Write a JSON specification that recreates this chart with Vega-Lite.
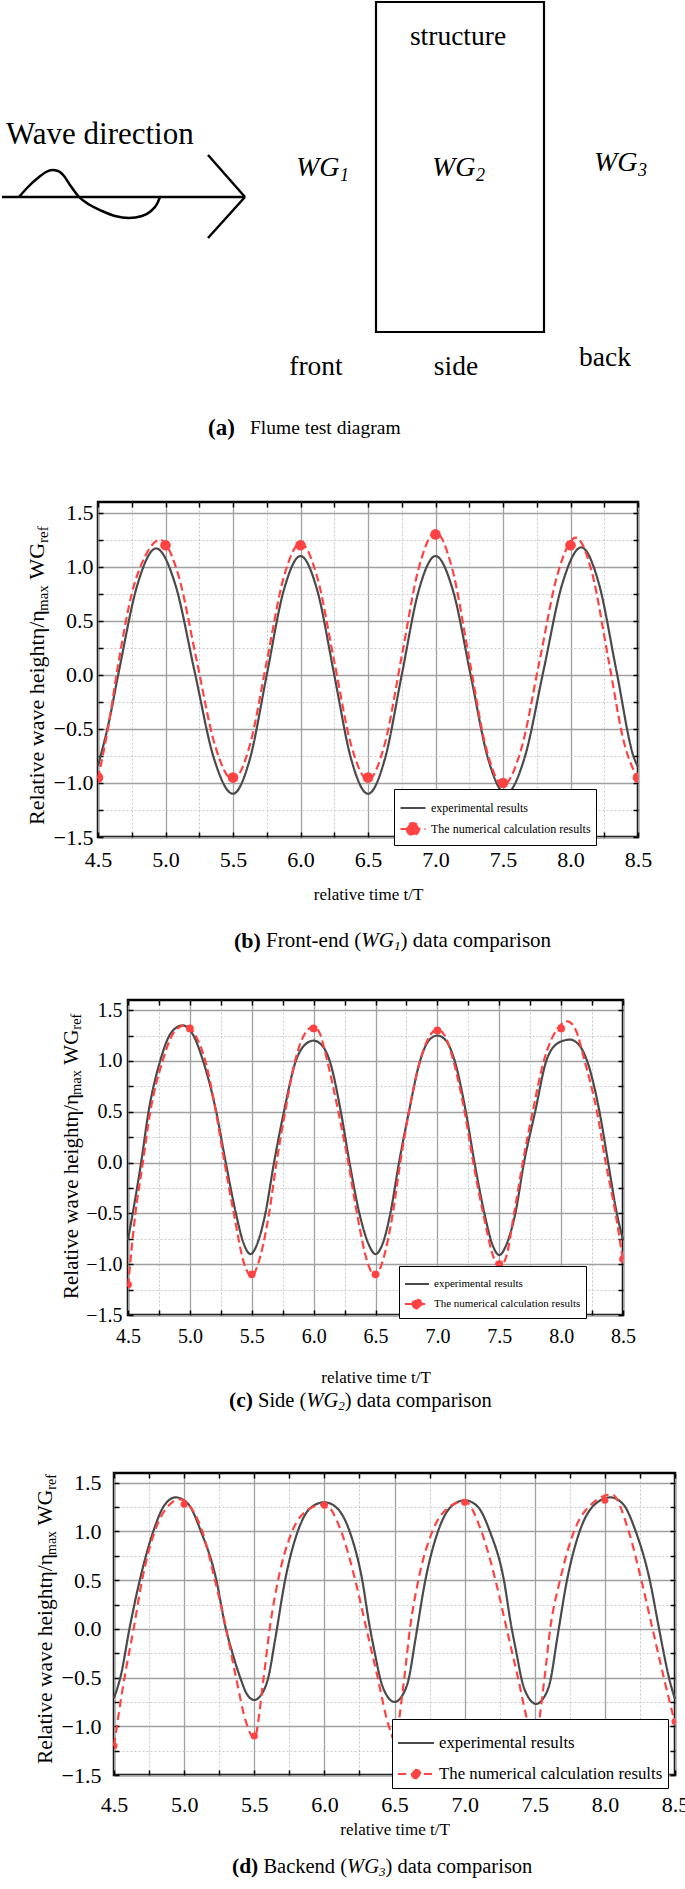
{
  "$schema": "https://vega.github.io/schema/vega-lite/v6.json",
  "padding": 0,
  "autosize": {"type": "pad"},
  "background": "white",
  "spacing": 40,
  "resolve": {"scale": {"color": "independent", "strokeDash": "independent"}},
  "config": {
    "view": {"stroke": null},
    "font": "Liberation Serif",
    "axis": {"labelFont": "Liberation Serif", "titleFont": "Liberation Serif", "labelColor": "black", "titleColor": "black", "titleFontWeight": "normal", "labelOverlap": false, "labelFlush": false},
    "legend": {"labelFont": "Liberation Serif", "labelColor": "black", "labelLimit": 0}
  },
  "datasets": {
    "b_lines": [
      {"t": 4.5, "v": -0.84, "series": "experimental results"},
      {"t": 4.58, "v": -0.44, "series": "experimental results"},
      {"t": 4.655, "v": 0.035, "series": "experimental results"},
      {"t": 4.7925, "v": 0.837, "series": "experimental results"},
      {"t": 4.93, "v": 1.17, "series": "experimental results"},
      {"t": 5.0725, "v": 0.837, "series": "experimental results"},
      {"t": 5.215, "v": 0.035, "series": "experimental results"},
      {"t": 5.3575, "v": -0.767, "series": "experimental results"},
      {"t": 5.5, "v": -1.1, "series": "experimental results"},
      {"t": 5.625, "v": -0.778, "series": "experimental results"},
      {"t": 5.75, "v": 0.0, "series": "experimental results"},
      {"t": 5.875, "v": 0.778, "series": "experimental results"},
      {"t": 6.0, "v": 1.1, "series": "experimental results"},
      {"t": 6.125, "v": 0.778, "series": "experimental results"},
      {"t": 6.25, "v": 0.0, "series": "experimental results"},
      {"t": 6.375, "v": -0.778, "series": "experimental results"},
      {"t": 6.5, "v": -1.1, "series": "experimental results"},
      {"t": 6.625, "v": -0.778, "series": "experimental results"},
      {"t": 6.75, "v": 0.0, "series": "experimental results"},
      {"t": 6.875, "v": 0.778, "series": "experimental results"},
      {"t": 7.0, "v": 1.1, "series": "experimental results"},
      {"t": 7.13, "v": 0.778, "series": "experimental results"},
      {"t": 7.26, "v": 0.0, "series": "experimental results"},
      {"t": 7.39, "v": -0.778, "series": "experimental results"},
      {"t": 7.52, "v": -1.1, "series": "experimental results"},
      {"t": 7.66, "v": -0.766, "series": "experimental results"},
      {"t": 7.8, "v": 0.04, "series": "experimental results"},
      {"t": 7.94, "v": 0.846, "series": "experimental results"},
      {"t": 8.08, "v": 1.18, "series": "experimental results"},
      {"t": 8.21, "v": 0.846, "series": "experimental results"},
      {"t": 8.34, "v": 0.04, "series": "experimental results"},
      {"t": 8.47, "v": -0.766, "series": "experimental results"},
      {"t": 8.5, "v": -0.85, "series": "experimental results"},
      {"t": 4.5, "v": -0.96, "series": "The numerical calculation results"},
      {"t": 4.58, "v": -0.45, "series": "The numerical calculation results"},
      {"t": 4.65, "v": 0.1, "series": "The numerical calculation results"},
      {"t": 4.75, "v": 0.75, "series": "The numerical calculation results"},
      {"t": 4.85, "v": 1.1, "series": "The numerical calculation results"},
      {"t": 4.96, "v": 1.25, "series": "The numerical calculation results"},
      {"t": 5.095, "v": 0.925, "series": "The numerical calculation results"},
      {"t": 5.23, "v": 0.14, "series": "The numerical calculation results"},
      {"t": 5.365, "v": -0.645, "series": "The numerical calculation results"},
      {"t": 5.5, "v": -0.97, "series": "The numerical calculation results"},
      {"t": 5.625, "v": -0.649, "series": "The numerical calculation results"},
      {"t": 5.75, "v": 0.125, "series": "The numerical calculation results"},
      {"t": 5.875, "v": 0.899, "series": "The numerical calculation results"},
      {"t": 6.0, "v": 1.22, "series": "The numerical calculation results"},
      {"t": 6.125, "v": 0.899, "series": "The numerical calculation results"},
      {"t": 6.25, "v": 0.125, "series": "The numerical calculation results"},
      {"t": 6.375, "v": -0.649, "series": "The numerical calculation results"},
      {"t": 6.5, "v": -0.97, "series": "The numerical calculation results"},
      {"t": 6.625, "v": -0.635, "series": "The numerical calculation results"},
      {"t": 6.75, "v": 0.175, "series": "The numerical calculation results"},
      {"t": 6.875, "v": 0.985, "series": "The numerical calculation results"},
      {"t": 7.0, "v": 1.32, "series": "The numerical calculation results"},
      {"t": 7.125, "v": 0.977, "series": "The numerical calculation results"},
      {"t": 7.25, "v": 0.15, "series": "The numerical calculation results"},
      {"t": 7.375, "v": -0.677, "series": "The numerical calculation results"},
      {"t": 7.5, "v": -1.02, "series": "The numerical calculation results"},
      {"t": 7.635, "v": -0.685, "series": "The numerical calculation results"},
      {"t": 7.77, "v": 0.125, "series": "The numerical calculation results"},
      {"t": 7.905, "v": 0.935, "series": "The numerical calculation results"},
      {"t": 8.04, "v": 1.27, "series": "The numerical calculation results"},
      {"t": 8.16, "v": 0.942, "series": "The numerical calculation results"},
      {"t": 8.28, "v": 0.15, "series": "The numerical calculation results"},
      {"t": 8.4, "v": -0.642, "series": "The numerical calculation results"},
      {"t": 8.5, "v": -0.96, "series": "The numerical calculation results"}
    ],
    "b_pts": [
      {"t": 4.5, "v": -0.95}, {"t": 5.0, "v": 1.2}, {"t": 5.5, "v": -0.95}, {"t": 6.0, "v": 1.2}, {"t": 6.5, "v": -0.95},
      {"t": 7.0, "v": 1.3}, {"t": 7.5, "v": -1.0}, {"t": 8.0, "v": 1.2}, {"t": 8.5, "v": -0.95}
    ],
    "c_lines": [
      {"t": 4.5, "v": -0.76, "series": "experimental results"},
      {"t": 4.606, "v": 0.0, "series": "experimental results"},
      {"t": 4.666, "v": 0.5, "series": "experimental results"},
      {"t": 4.76, "v": 1.0, "series": "experimental results"},
      {"t": 4.85, "v": 1.28, "series": "experimental results"},
      {"t": 4.94, "v": 1.35, "series": "experimental results"},
      {"t": 5.02, "v": 1.27, "series": "experimental results"},
      {"t": 5.107, "v": 1.0, "series": "experimental results"},
      {"t": 5.213, "v": 0.5, "series": "experimental results"},
      {"t": 5.29, "v": 0.0, "series": "experimental results"},
      {"t": 5.372, "v": -0.5, "series": "experimental results"},
      {"t": 5.43, "v": -0.78, "series": "experimental results"},
      {"t": 5.49, "v": -0.9, "series": "experimental results"},
      {"t": 5.55, "v": -0.78, "series": "experimental results"},
      {"t": 5.61, "v": -0.5, "series": "experimental results"},
      {"t": 5.68, "v": 0.0, "series": "experimental results"},
      {"t": 5.76, "v": 0.5, "series": "experimental results"},
      {"t": 5.856, "v": 1.0, "series": "experimental results"},
      {"t": 5.93, "v": 1.16, "series": "experimental results"},
      {"t": 6.0, "v": 1.2, "series": "experimental results"},
      {"t": 6.07, "v": 1.15, "series": "experimental results"},
      {"t": 6.13, "v": 1.0, "series": "experimental results"},
      {"t": 6.22, "v": 0.5, "series": "experimental results"},
      {"t": 6.29, "v": 0.0, "series": "experimental results"},
      {"t": 6.37, "v": -0.5, "series": "experimental results"},
      {"t": 6.44, "v": -0.79, "series": "experimental results"},
      {"t": 6.5, "v": -0.9, "series": "experimental results"},
      {"t": 6.56, "v": -0.79, "series": "experimental results"},
      {"t": 6.62, "v": -0.5, "series": "experimental results"},
      {"t": 6.69, "v": 0.0, "series": "experimental results"},
      {"t": 6.77, "v": 0.5, "series": "experimental results"},
      {"t": 6.86, "v": 1.0, "series": "experimental results"},
      {"t": 6.93, "v": 1.2, "series": "experimental results"},
      {"t": 7.0, "v": 1.25, "series": "experimental results"},
      {"t": 7.07, "v": 1.2, "series": "experimental results"},
      {"t": 7.14, "v": 1.0, "series": "experimental results"},
      {"t": 7.23, "v": 0.5, "series": "experimental results"},
      {"t": 7.3, "v": 0.0, "series": "experimental results"},
      {"t": 7.38, "v": -0.5, "series": "experimental results"},
      {"t": 7.44, "v": -0.79, "series": "experimental results"},
      {"t": 7.5, "v": -0.91, "series": "experimental results"},
      {"t": 7.56, "v": -0.8, "series": "experimental results"},
      {"t": 7.63, "v": -0.5, "series": "experimental results"},
      {"t": 7.7, "v": 0.0, "series": "experimental results"},
      {"t": 7.79, "v": 0.5, "series": "experimental results"},
      {"t": 7.88, "v": 1.0, "series": "experimental results"},
      {"t": 7.98, "v": 1.18, "series": "experimental results"},
      {"t": 8.07, "v": 1.21, "series": "experimental results"},
      {"t": 8.15, "v": 1.15, "series": "experimental results"},
      {"t": 8.21, "v": 1.0, "series": "experimental results"},
      {"t": 8.31, "v": 0.5, "series": "experimental results"},
      {"t": 8.38, "v": 0.0, "series": "experimental results"},
      {"t": 8.45, "v": -0.5, "series": "experimental results"},
      {"t": 8.5, "v": -0.76, "series": "experimental results"},
      {"t": 4.5, "v": -1.22, "series": "The numerical calculation results"},
      {"t": 4.56, "v": -0.5, "series": "The numerical calculation results"},
      {"t": 4.62, "v": 0.0, "series": "The numerical calculation results"},
      {"t": 4.68, "v": 0.5, "series": "The numerical calculation results"},
      {"t": 4.78, "v": 1.0, "series": "The numerical calculation results"},
      {"t": 4.87, "v": 1.28, "series": "The numerical calculation results"},
      {"t": 4.96, "v": 1.35, "series": "The numerical calculation results"},
      {"t": 5.04, "v": 1.26, "series": "The numerical calculation results"},
      {"t": 5.125, "v": 1.0, "series": "The numerical calculation results"},
      {"t": 5.21, "v": 0.5, "series": "The numerical calculation results"},
      {"t": 5.28, "v": 0.0, "series": "The numerical calculation results"},
      {"t": 5.355, "v": -0.5, "series": "The numerical calculation results"},
      {"t": 5.44, "v": -1.0, "series": "The numerical calculation results"},
      {"t": 5.5, "v": -1.12, "series": "The numerical calculation results"},
      {"t": 5.55, "v": -1.0, "series": "The numerical calculation results"},
      {"t": 5.64, "v": -0.5, "series": "The numerical calculation results"},
      {"t": 5.7, "v": 0.0, "series": "The numerical calculation results"},
      {"t": 5.77, "v": 0.5, "series": "The numerical calculation results"},
      {"t": 5.85, "v": 1.0, "series": "The numerical calculation results"},
      {"t": 5.93, "v": 1.27, "series": "The numerical calculation results"},
      {"t": 6.0, "v": 1.34, "series": "The numerical calculation results"},
      {"t": 6.05, "v": 1.27, "series": "The numerical calculation results"},
      {"t": 6.11, "v": 1.0, "series": "The numerical calculation results"},
      {"t": 6.2, "v": 0.5, "series": "The numerical calculation results"},
      {"t": 6.28, "v": 0.0, "series": "The numerical calculation results"},
      {"t": 6.35, "v": -0.5, "series": "The numerical calculation results"},
      {"t": 6.44, "v": -1.0, "series": "The numerical calculation results"},
      {"t": 6.5, "v": -1.12, "series": "The numerical calculation results"},
      {"t": 6.55, "v": -1.0, "series": "The numerical calculation results"},
      {"t": 6.64, "v": -0.5, "series": "The numerical calculation results"},
      {"t": 6.7, "v": 0.0, "series": "The numerical calculation results"},
      {"t": 6.77, "v": 0.5, "series": "The numerical calculation results"},
      {"t": 6.86, "v": 1.0, "series": "The numerical calculation results"},
      {"t": 6.94, "v": 1.25, "series": "The numerical calculation results"},
      {"t": 7.0, "v": 1.31, "series": "The numerical calculation results"},
      {"t": 7.06, "v": 1.25, "series": "The numerical calculation results"},
      {"t": 7.13, "v": 1.0, "series": "The numerical calculation results"},
      {"t": 7.22, "v": 0.5, "series": "The numerical calculation results"},
      {"t": 7.29, "v": 0.0, "series": "The numerical calculation results"},
      {"t": 7.37, "v": -0.5, "series": "The numerical calculation results"},
      {"t": 7.46, "v": -0.95, "series": "The numerical calculation results"},
      {"t": 7.5, "v": -1.02, "series": "The numerical calculation results"},
      {"t": 7.55, "v": -0.95, "series": "The numerical calculation results"},
      {"t": 7.62, "v": -0.5, "series": "The numerical calculation results"},
      {"t": 7.69, "v": 0.0, "series": "The numerical calculation results"},
      {"t": 7.77, "v": 0.5, "series": "The numerical calculation results"},
      {"t": 7.86, "v": 1.0, "series": "The numerical calculation results"},
      {"t": 7.96, "v": 1.3, "series": "The numerical calculation results"},
      {"t": 8.05, "v": 1.39, "series": "The numerical calculation results"},
      {"t": 8.12, "v": 1.3, "series": "The numerical calculation results"},
      {"t": 8.19, "v": 1.0, "series": "The numerical calculation results"},
      {"t": 8.29, "v": 0.5, "series": "The numerical calculation results"},
      {"t": 8.36, "v": 0.0, "series": "The numerical calculation results"},
      {"t": 8.44, "v": -0.5, "series": "The numerical calculation results"},
      {"t": 8.5, "v": -0.97, "series": "The numerical calculation results"}
    ],
    "c_pts": [
      {"t": 4.5, "v": -1.2}, {"t": 5.0, "v": 1.32}, {"t": 5.5, "v": -1.1}, {"t": 6.0, "v": 1.32}, {"t": 6.5, "v": -1.1},
      {"t": 7.0, "v": 1.3}, {"t": 7.5, "v": -1.0}, {"t": 8.0, "v": 1.32}, {"t": 8.5, "v": -0.95}
    ],
    "d_lines": [
      {"t": 4.5, "v": -0.71, "series": "experimental results"},
      {"t": 4.55, "v": -0.47, "series": "experimental results"},
      {"t": 4.61, "v": 0.0, "series": "experimental results"},
      {"t": 4.684, "v": 0.5, "series": "experimental results"},
      {"t": 4.78, "v": 1.0, "series": "experimental results"},
      {"t": 4.86, "v": 1.27, "series": "experimental results"},
      {"t": 4.94, "v": 1.35, "series": "experimental results"},
      {"t": 5.03, "v": 1.28, "series": "experimental results"},
      {"t": 5.12, "v": 1.0, "series": "experimental results"},
      {"t": 5.23, "v": 0.5, "series": "experimental results"},
      {"t": 5.29, "v": 0.05, "series": "experimental results"},
      {"t": 5.345, "v": -0.25, "series": "experimental results"},
      {"t": 5.4, "v": -0.5, "series": "experimental results"},
      {"t": 5.45, "v": -0.675, "series": "experimental results"},
      {"t": 5.5, "v": -0.73, "series": "experimental results"},
      {"t": 5.55, "v": -0.675, "series": "experimental results"},
      {"t": 5.6, "v": -0.5, "series": "experimental results"},
      {"t": 5.65, "v": -0.1, "series": "experimental results"},
      {"t": 5.72, "v": 0.5, "series": "experimental results"},
      {"t": 5.81, "v": 1.0, "series": "experimental results"},
      {"t": 5.9, "v": 1.24, "series": "experimental results"},
      {"t": 6.0, "v": 1.3, "series": "experimental results"},
      {"t": 6.09, "v": 1.24, "series": "experimental results"},
      {"t": 6.18, "v": 1.0, "series": "experimental results"},
      {"t": 6.27, "v": 0.5, "series": "experimental results"},
      {"t": 6.32, "v": 0.05, "series": "experimental results"},
      {"t": 6.36, "v": -0.25, "series": "experimental results"},
      {"t": 6.4, "v": -0.52, "series": "experimental results"},
      {"t": 6.45, "v": -0.695, "series": "experimental results"},
      {"t": 6.5, "v": -0.75, "series": "experimental results"},
      {"t": 6.55, "v": -0.695, "series": "experimental results"},
      {"t": 6.6, "v": -0.52, "series": "experimental results"},
      {"t": 6.65, "v": -0.1, "series": "experimental results"},
      {"t": 6.72, "v": 0.5, "series": "experimental results"},
      {"t": 6.81, "v": 1.0, "series": "experimental results"},
      {"t": 6.9, "v": 1.25, "series": "experimental results"},
      {"t": 7.0, "v": 1.32, "series": "experimental results"},
      {"t": 7.09, "v": 1.26, "series": "experimental results"},
      {"t": 7.18, "v": 1.0, "series": "experimental results"},
      {"t": 7.28, "v": 0.5, "series": "experimental results"},
      {"t": 7.33, "v": 0.05, "series": "experimental results"},
      {"t": 7.37, "v": -0.25, "series": "experimental results"},
      {"t": 7.41, "v": -0.54, "series": "experimental results"},
      {"t": 7.46, "v": -0.715, "series": "experimental results"},
      {"t": 7.51, "v": -0.77, "series": "experimental results"},
      {"t": 7.56, "v": -0.715, "series": "experimental results"},
      {"t": 7.61, "v": -0.54, "series": "experimental results"},
      {"t": 7.66, "v": -0.1, "series": "experimental results"},
      {"t": 7.73, "v": 0.5, "series": "experimental results"},
      {"t": 7.82, "v": 1.0, "series": "experimental results"},
      {"t": 7.93, "v": 1.28, "series": "experimental results"},
      {"t": 8.04, "v": 1.35, "series": "experimental results"},
      {"t": 8.13, "v": 1.28, "series": "experimental results"},
      {"t": 8.22, "v": 1.0, "series": "experimental results"},
      {"t": 8.32, "v": 0.5, "series": "experimental results"},
      {"t": 8.38, "v": 0.05, "series": "experimental results"},
      {"t": 8.42, "v": -0.25, "series": "experimental results"},
      {"t": 8.46, "v": -0.52, "series": "experimental results"},
      {"t": 8.5, "v": -0.72, "series": "experimental results"},
      {"t": 4.5, "v": -1.2, "series": "The numerical calculation results"},
      {"t": 4.575, "v": -0.5, "series": "The numerical calculation results"},
      {"t": 4.64, "v": 0.0, "series": "The numerical calculation results"},
      {"t": 4.7, "v": 0.5, "series": "The numerical calculation results"},
      {"t": 4.79, "v": 1.0, "series": "The numerical calculation results"},
      {"t": 4.88, "v": 1.25, "series": "The numerical calculation results"},
      {"t": 4.97, "v": 1.33, "series": "The numerical calculation results"},
      {"t": 5.06, "v": 1.22, "series": "The numerical calculation results"},
      {"t": 5.13, "v": 1.0, "series": "The numerical calculation results"},
      {"t": 5.22, "v": 0.5, "series": "The numerical calculation results"},
      {"t": 5.3, "v": 0.0, "series": "The numerical calculation results"},
      {"t": 5.37, "v": -0.5, "series": "The numerical calculation results"},
      {"t": 5.44, "v": -0.95, "series": "The numerical calculation results"},
      {"t": 5.5, "v": -1.12, "series": "The numerical calculation results"},
      {"t": 5.567, "v": -0.5, "series": "The numerical calculation results"},
      {"t": 5.61, "v": 0.0, "series": "The numerical calculation results"},
      {"t": 5.67, "v": 0.5, "series": "The numerical calculation results"},
      {"t": 5.77, "v": 1.0, "series": "The numerical calculation results"},
      {"t": 5.88, "v": 1.22, "series": "The numerical calculation results"},
      {"t": 6.0, "v": 1.28, "series": "The numerical calculation results"},
      {"t": 6.12, "v": 1.0, "series": "The numerical calculation results"},
      {"t": 6.22, "v": 0.5, "series": "The numerical calculation results"},
      {"t": 6.3, "v": 0.0, "series": "The numerical calculation results"},
      {"t": 6.38, "v": -0.5, "series": "The numerical calculation results"},
      {"t": 6.46, "v": -1.0, "series": "The numerical calculation results"},
      {"t": 6.5, "v": -1.12, "series": "The numerical calculation results"},
      {"t": 6.57, "v": -0.5, "series": "The numerical calculation results"},
      {"t": 6.61, "v": 0.0, "series": "The numerical calculation results"},
      {"t": 6.67, "v": 0.5, "series": "The numerical calculation results"},
      {"t": 6.77, "v": 1.0, "series": "The numerical calculation results"},
      {"t": 6.88, "v": 1.24, "series": "The numerical calculation results"},
      {"t": 7.0, "v": 1.31, "series": "The numerical calculation results"},
      {"t": 7.12, "v": 1.0, "series": "The numerical calculation results"},
      {"t": 7.22, "v": 0.5, "series": "The numerical calculation results"},
      {"t": 7.3, "v": 0.0, "series": "The numerical calculation results"},
      {"t": 7.38, "v": -0.5, "series": "The numerical calculation results"},
      {"t": 7.46, "v": -1.0, "series": "The numerical calculation results"},
      {"t": 7.5, "v": -1.12, "series": "The numerical calculation results"},
      {"t": 7.57, "v": -0.5, "series": "The numerical calculation results"},
      {"t": 7.61, "v": 0.0, "series": "The numerical calculation results"},
      {"t": 7.68, "v": 0.5, "series": "The numerical calculation results"},
      {"t": 7.78, "v": 1.0, "series": "The numerical calculation results"},
      {"t": 7.92, "v": 1.3, "series": "The numerical calculation results"},
      {"t": 8.05, "v": 1.38, "series": "The numerical calculation results"},
      {"t": 8.17, "v": 1.0, "series": "The numerical calculation results"},
      {"t": 8.26, "v": 0.5, "series": "The numerical calculation results"},
      {"t": 8.34, "v": 0.0, "series": "The numerical calculation results"},
      {"t": 8.42, "v": -0.5, "series": "The numerical calculation results"},
      {"t": 8.5, "v": -0.97, "series": "The numerical calculation results"}
    ],
    "d_pts": [
      {"t": 4.5, "v": -1.2}, {"t": 5.0, "v": 1.28}, {"t": 5.5, "v": -1.1}, {"t": 6.0, "v": 1.27}, {"t": 6.5, "v": -1.1},
      {"t": 7.0, "v": 1.3}, {"t": 7.5, "v": -1.1}, {"t": 8.0, "v": 1.32}, {"t": 8.5, "v": -0.95}
    ]
  },
  "vconcat": [
    {
      "width": 685,
      "height": 460,
      "view": {"stroke": null},
      "encoding": {
        "x": {"field": "x", "type": "quantitative", "scale": {"domain": [0, 685], "nice": false, "zero": false}, "axis": null},
        "y": {"field": "y", "type": "quantitative", "scale": {"domain": [0, 460], "nice": false, "zero": false, "reverse": true}, "axis": null}
      },
      "layer": [
        {
          "data": {"values": [{"x": 374, "y": 2, "x2": 542, "y2": 332}]},
          "mark": {"type": "rect", "fillOpacity": 0, "stroke": "black", "strokeWidth": 2.2},
          "encoding": {"x2": {"field": "x2"}, "y2": {"field": "y2"}}
        },
        {
          "data": {"values": [
            {"x": 0, "y": 197, "x2": 243, "y2": 197},
            {"x": 206, "y": 155, "x2": 243, "y2": 197},
            {"x": 206, "y": 238, "x2": 243, "y2": 197}
          ]},
          "mark": {"type": "rule", "strokeWidth": 2.5, "color": "black"},
          "encoding": {"x2": {"field": "x2"}, "y2": {"field": "y2"}}
        },
        {
          "data": {"values": [
            {"x": 17, "y": 197}, {"x": 26, "y": 187}, {"x": 37, "y": 177}, {"x": 44, "y": 172}, {"x": 50, "y": 170},
            {"x": 56, "y": 171}, {"x": 62, "y": 176}, {"x": 68, "y": 185}, {"x": 77, "y": 197}, {"x": 88, "y": 205},
            {"x": 100, "y": 211}, {"x": 113, "y": 216}, {"x": 127, "y": 218}, {"x": 140, "y": 216}, {"x": 149, "y": 211},
            {"x": 155, "y": 204}, {"x": 158, "y": 197}
          ]},
          "mark": {"type": "line", "interpolate": "monotone", "strokeWidth": 2.5, "color": "black"}
        },
        {
          "data": {"values": [{"x": 4, "y": 135, "txt": "Wave direction"}]},
          "mark": {"type": "text", "align": "left", "baseline": "middle", "font": "Liberation Serif", "fontSize": 31, "color": "black"},
          "encoding": {"text": {"field": "txt"}}
        },
        {
          "data": {"values": [
            {"x": 456, "y": 37, "txt": "structure"},
            {"x": 314, "y": 367, "txt": "front"},
            {"x": 454, "y": 367, "txt": "side"},
            {"x": 603, "y": 358, "txt": "back"}
          ]},
          "mark": {"type": "text", "align": "center", "baseline": "middle", "font": "Liberation Serif", "fontSize": 27.5, "color": "black"},
          "encoding": {"text": {"field": "txt"}}
        },
        {
          "data": {"values": [
            {"x": 294, "y": 168, "txt": "WG"},
            {"x": 430, "y": 168, "txt": "WG"},
            {"x": 592, "y": 163, "txt": "WG"}
          ]},
          "mark": {"type": "text", "align": "left", "baseline": "middle", "font": "Liberation Serif", "fontStyle": "italic", "fontSize": 28, "color": "black"},
          "encoding": {"text": {"field": "txt"}}
        },
        {
          "data": {"values": [
            {"x": 338, "y": 176, "txt": "1"},
            {"x": 474, "y": 176, "txt": "2"},
            {"x": 636, "y": 171, "txt": "3"}
          ]},
          "mark": {"type": "text", "align": "left", "baseline": "middle", "font": "Liberation Serif", "fontStyle": "italic", "fontSize": 18, "color": "black"},
          "encoding": {"text": {"field": "txt"}}
        },
        {
          "data": {"values": [{"x": 206, "y": 428, "txt": "(a)"}]},
          "mark": {"type": "text", "align": "left", "baseline": "middle", "font": "Liberation Serif", "fontWeight": "bold", "fontSize": 23, "color": "black"},
          "encoding": {"text": {"field": "txt"}}
        },
        {
          "data": {"values": [{"x": 248, "y": 428, "txt": "Flume test diagram"}]},
          "mark": {"type": "text", "align": "left", "baseline": "middle", "font": "Liberation Serif", "fontSize": 19.5, "color": "black"},
          "encoding": {"text": {"field": "txt"}}
        }
      ]
    },
    {
      "spacing": 44,
      "resolve": {"scale": {"color": "independent", "strokeDash": "independent"}},
      "vconcat": [
        {
          "spacing": 0,
          "bounds": "flush",
          "resolve": {"scale": {"color": "independent", "strokeDash": "independent"}},
          "hconcat": [
            {"width": 96, "height": 10, "view": {"stroke": null}, "data": {"values": [{"x": 0}]}, "mark": {"type": "point", "opacity": 0}, "encoding": {"x": {"field": "x", "type": "quantitative", "axis": null}}},
            {
              "width": 540,
              "height": 335,
              "view": {"stroke": "black", "strokeWidth": 2.5},
              "resolve": {"axis": {"x": "independent", "y": "independent"}},
              "encoding": {
                "x": {"field": "t", "type": "quantitative", "scale": {"domain": [4.5, 8.5], "nice": false, "zero": false}, "axis": null},
                "y": {"field": "v", "type": "quantitative", "scale": {"domain": [-1.5, 1.6], "nice": false, "zero": false}, "axis": null}
              },
              "layer": [
                {
                  "data": {"name": "b_lines"},
                  "mark": {"type": "line", "interpolate": "monotone", "strokeWidth": 2.2},
                  "encoding": {
                    "x": {"field": "t", "type": "quantitative", "scale": {"domain": [4.5, 8.5], "nice": false, "zero": false},
                      "axis": {"orient": "bottom", "values": [4.5,4.75,5,5.25,5.5,5.75,6,6.25,6.5,6.75,7,7.25,7.5,7.75,8,8.25,8.5],
                        "labelExpr": "datum.value % 0.5 === 0 ? format(datum.value, '.1f') : ''",
                        "labelFontSize": 22, "labelPadding": 17, "tickSize": -5, "tickWidth": 1.5, "tickColor": "black", "domain": false,
                        "grid": true,
                        "gridColor": {"condition": {"test": "datum.value % 0.5 === 0", "value": "#a0a0a0"}, "value": "#c8c8c8"},
                        "gridDash": {"condition": {"test": "datum.value % 0.5 === 0", "value": []}, "value": [2, 2]},
                        "gridWidth": {"condition": {"test": "datum.value % 0.5 === 0", "value": 1.3}, "value": 1},
                        "title": "relative time t/T", "titleFontSize": 17, "titlePadding": 16.5}},
                    "y": {"field": "v", "type": "quantitative", "scale": {"domain": [-1.5, 1.6], "nice": false, "zero": false},
                      "axis": {"orient": "left", "values": [-1.5,-1.25,-1,-0.75,-0.5,-0.25,0,0.25,0.5,0.75,1,1.25,1.5],
                        "labelExpr": "datum.value % 0.5 === 0 ? format(datum.value, '.1f') : ''",
                        "labelFontSize": 22, "labelPadding": 10, "tickSize": -5, "tickWidth": 1.5, "tickColor": "black", "domain": false,
                        "grid": true,
                        "gridColor": {"condition": {"test": "datum.value % 0.5 === 0", "value": "#a0a0a0"}, "value": "#c8c8c8"},
                        "gridDash": {"condition": {"test": "datum.value % 0.5 === 0", "value": []}, "value": [2, 2]},
                        "gridWidth": {"condition": {"test": "datum.value % 0.5 === 0", "value": 1.3}, "value": 1},
                        "title": null}},
                    "color": {"field": "series", "type": "nominal",
                      "scale": {"domain": ["experimental results", "The numerical calculation results"], "range": ["#4a4a4a", "#ff4343"]},
                      "legend": {"title": null, "orient": "none", "legendX": 296, "legendY": 287, "direction": "vertical",
                        "fillColor": "white", "strokeColor": "black", "padding": 5, "labelFontSize": 12, "labelColor": "black", "labelLimit": 0,
                        "symbolSize": 625, "symbolStrokeWidth": 2.2, "labelOffset": 4, "rowPadding": 1,
                        "encode": {
                          "symbols": {"update": {
                            "shape": [{"test": "datum.value === 'experimental results'", "value": "M-1,0H1"}, {"value": "M-1,0H1M-0.48,0A0.48,0.48 0 1,0 0.48,0A0.48,0.48 0 1,0 -0.48,0Z"}],
                            "fill": [{"test": "datum.value === 'experimental results'", "value": "transparent"}, {"value": "#ff4343"}]
                          }}
                        }}},
                    "strokeDash": {"field": "series", "type": "nominal",
                      "scale": {"domain": ["experimental results", "The numerical calculation results"], "range": [[1, 0], [8, 4]]},
                      "legend": {"title": null, "orient": "none", "legendX": 296, "legendY": 287, "direction": "vertical",
                        "fillColor": "white", "strokeColor": "black", "padding": 5, "labelFontSize": 12, "labelColor": "black", "labelLimit": 0,
                        "symbolSize": 625, "symbolStrokeWidth": 2.2, "labelOffset": 4, "rowPadding": 1,
                        "encode": {
                          "symbols": {"update": {
                            "shape": [{"test": "datum.value === 'experimental results'", "value": "M-1,0H1"}, {"value": "M-1,0H1M-0.48,0A0.48,0.48 0 1,0 0.48,0A0.48,0.48 0 1,0 -0.48,0Z"}],
                            "fill": [{"test": "datum.value === 'experimental results'", "value": "transparent"}, {"value": "#ff4343"}]
                          }}
                        }}}
                  }
                },
                {
                  "data": {"name": "b_pts"},
                  "mark": {"type": "circle", "size": 113, "color": "#ff4343", "opacity": 1, "clip": true},
                  "encoding": {
                    "x": {"field": "t", "type": "quantitative", "scale": {"domain": [4.5, 8.5], "nice": false, "zero": false},
                      "axis": {"orient": "top", "values": [4.5,4.75,5,5.25,5.5,5.75,6,6.25,6.5,6.75,7,7.25,7.5,7.75,8,8.25,8.5], "labels": false, "domain": false, "grid": false, "tickSize": -5, "tickWidth": 1.5, "tickColor": "black", "title": null}},
                    "y": {"field": "v", "type": "quantitative", "scale": {"domain": [-1.5, 1.6], "nice": false, "zero": false},
                      "axis": {"orient": "right", "values": [-1.5,-1.25,-1,-0.75,-0.5,-0.25,0,0.25,0.5,0.75,1,1.25,1.5], "labels": false, "domain": false, "grid": false, "tickSize": -5, "tickWidth": 1.5, "tickColor": "black", "title": null}}
                  }
                },
                {
                  "data": {"values": [{"txt": "(b)", "t": 5.507, "v": -2.463}]},
                  "mark": {"type": "text", "align": "left", "baseline": "middle", "font": "Liberation Serif", "fontWeight": "bold", "fontSize": 22, "color": "black"},
                  "encoding": {"text": {"field": "txt"}}
                },
                {
                  "data": {"values": [{"txt": "Front-end (", "t": 5.745, "v": -2.463}, {"txt": ") data comparison", "t": 6.7415, "v": -2.463}]},
                  "mark": {"type": "text", "align": "left", "baseline": "middle", "font": "Liberation Serif", "fontSize": 21, "color": "black"},
                  "encoding": {"text": {"field": "txt"}}
                },
                {
                  "data": {"values": [{"txt": "WG", "t": 6.4496, "v": -2.463}]},
                  "mark": {"type": "text", "align": "left", "baseline": "middle", "font": "Liberation Serif", "fontStyle": "italic", "fontSize": 21, "color": "black"},
                  "encoding": {"text": {"field": "txt"}}
                },
                {
                  "data": {"values": [{"txt": "1", "t": 6.6919, "v": -2.509}]},
                  "mark": {"type": "text", "align": "left", "baseline": "middle", "font": "Liberation Serif", "fontStyle": "italic", "fontSize": 13.5, "color": "black"},
                  "encoding": {"text": {"field": "txt"}}
                },
                {
                  "data": {"values": [{"txt": "Relative wave heightη/η", "t": 4.0481, "v": -1.389}, {"txt": "WG", "t": 4.0481, "v": 0.8828}]},
                  "mark": {"type": "text", "angle": 270, "align": "left", "baseline": "middle", "font": "Liberation Serif", "fontSize": 22, "color": "black"},
                  "encoding": {"text": {"field": "txt"}}
                },
                {
                  "data": {"values": [{"txt": "max", "t": 4.0926, "v": 0.5913}, {"txt": "ref", "t": 4.0926, "v": 1.2206}]},
                  "mark": {"type": "text", "angle": 270, "align": "left", "baseline": "middle", "font": "Liberation Serif", "fontSize": 15, "color": "black"},
                  "encoding": {"text": {"field": "txt"}}
                }
              ]
            }
          ]
        },
        {
          "spacing": 55,
          "resolve": {"scale": {"color": "independent", "strokeDash": "independent"}},
          "vconcat": [
            {
              "spacing": 0,
              "bounds": "flush",
              "resolve": {"scale": {"color": "independent", "strokeDash": "independent"}},
              "hconcat": [
                {"width": 126, "height": 10, "view": {"stroke": null}, "data": {"values": [{"x": 0}]}, "mark": {"type": "point", "opacity": 0}, "encoding": {"x": {"field": "x", "type": "quantitative", "axis": null}}},
                {
                  "width": 495,
                  "height": 315,
                  "view": {"stroke": "black", "strokeWidth": 2.5},
                  "resolve": {"axis": {"x": "independent", "y": "independent"}},
                  "encoding": {
                    "x": {"field": "t", "type": "quantitative", "scale": {"domain": [4.5, 8.5], "nice": false, "zero": false}, "axis": null},
                    "y": {"field": "v", "type": "quantitative", "scale": {"domain": [-1.5, 1.6], "nice": false, "zero": false}, "axis": null}
                  },
                  "layer": [
                    {
                      "data": {"name": "c_lines"},
                      "mark": {"type": "line", "interpolate": "monotone", "strokeWidth": 2.2},
                      "encoding": {
                        "x": {"field": "t", "type": "quantitative", "scale": {"domain": [4.5, 8.5], "nice": false, "zero": false},
                          "axis": {"orient": "bottom", "values": [4.5,4.75,5,5.25,5.5,5.75,6,6.25,6.5,6.75,7,7.25,7.5,7.75,8,8.25,8.5],
                            "labelExpr": "datum.value % 0.5 === 0 ? format(datum.value, '.1f') : ''",
                            "labelFontSize": 20, "labelPadding": 16.4, "tickSize": -5, "tickWidth": 1.5, "tickColor": "black", "domain": false,
                            "grid": true,
                            "gridColor": {"condition": {"test": "datum.value % 0.5 === 0", "value": "#a0a0a0"}, "value": "#c8c8c8"},
                            "gridDash": {"condition": {"test": "datum.value % 0.5 === 0", "value": []}, "value": [2, 2]},
                            "gridWidth": {"condition": {"test": "datum.value % 0.5 === 0", "value": 1.3}, "value": 1},
                            "title": "relative time t/T", "titleFontSize": 17, "titlePadding": 23}},
                        "y": {"field": "v", "type": "quantitative", "scale": {"domain": [-1.5, 1.6], "nice": false, "zero": false},
                          "axis": {"orient": "left", "values": [-1.5,-1.25,-1,-0.75,-0.5,-0.25,0,0.25,0.5,0.75,1,1.25,1.5],
                            "labelExpr": "datum.value % 0.5 === 0 ? format(datum.value, '.1f') : ''",
                            "labelFontSize": 20, "labelPadding": 11, "tickSize": -5, "tickWidth": 1.5, "tickColor": "black", "domain": false,
                            "grid": true,
                            "gridColor": {"condition": {"test": "datum.value % 0.5 === 0", "value": "#a0a0a0"}, "value": "#c8c8c8"},
                            "gridDash": {"condition": {"test": "datum.value % 0.5 === 0", "value": []}, "value": [2, 2]},
                            "gridWidth": {"condition": {"test": "datum.value % 0.5 === 0", "value": 1.3}, "value": 1},
                            "title": null}},
                        "color": {"field": "series", "type": "nominal",
                          "scale": {"domain": ["experimental results", "The numerical calculation results"], "range": ["#4a4a4a", "#ff4343"]},
                          "legend": {"title": null, "orient": "none", "legendX": 271, "legendY": 266, "direction": "vertical",
                            "fillColor": "white", "strokeColor": "black", "padding": 5, "labelFontSize": 11, "labelColor": "black", "labelLimit": 0,
                            "symbolSize": 576, "symbolStrokeWidth": 2, "labelOffset": 4, "rowPadding": 2,
                            "encode": {
                              "symbols": {"update": {
                                "shape": [{"test": "datum.value === 'experimental results'", "value": "M-1,0H1"}, {"value": "M-1,0H1M-0.37,0A0.37,0.37 0 1,0 0.37,0A0.37,0.37 0 1,0 -0.37,0Z"}],
                                "fill": [{"test": "datum.value === 'experimental results'", "value": "transparent"}, {"value": "#ff4343"}]
                              }}
                            }}},
                        "strokeDash": {"field": "series", "type": "nominal",
                          "scale": {"domain": ["experimental results", "The numerical calculation results"], "range": [[1, 0], [8, 4]]},
                          "legend": {"title": null, "orient": "none", "legendX": 271, "legendY": 266, "direction": "vertical",
                            "fillColor": "white", "strokeColor": "black", "padding": 5, "labelFontSize": 11, "labelColor": "black", "labelLimit": 0,
                            "symbolSize": 576, "symbolStrokeWidth": 2, "labelOffset": 4, "rowPadding": 2,
                            "encode": {
                              "symbols": {"update": {
                                "shape": [{"test": "datum.value === 'experimental results'", "value": "M-1,0H1"}, {"value": "M-1,0H1M-0.37,0A0.37,0.37 0 1,0 0.37,0A0.37,0.37 0 1,0 -0.37,0Z"}],
                                "fill": [{"test": "datum.value === 'experimental results'", "value": "transparent"}, {"value": "#ff4343"}]
                              }}
                            }}}
                      }
                    },
                    {
                      "data": {"name": "c_pts"},
                      "mark": {"type": "circle", "size": 60, "color": "#ff4343", "opacity": 1, "clip": true},
                      "encoding": {
                        "x": {"field": "t", "type": "quantitative", "scale": {"domain": [4.5, 8.5], "nice": false, "zero": false},
                          "axis": {"orient": "top", "values": [4.5,4.75,5,5.25,5.5,5.75,6,6.25,6.5,6.75,7,7.25,7.5,7.75,8,8.25,8.5], "labels": false, "domain": false, "grid": false, "tickSize": -5, "tickWidth": 1.5, "tickColor": "black", "title": null}},
                        "y": {"field": "v", "type": "quantitative", "scale": {"domain": [-1.5, 1.6], "nice": false, "zero": false},
                          "axis": {"orient": "right", "values": [-1.5,-1.25,-1,-0.75,-0.5,-0.25,0,0.25,0.5,0.75,1,1.25,1.5], "labels": false, "domain": false, "grid": false, "tickSize": -5, "tickWidth": 1.5, "tickColor": "black", "title": null}}
                      }
                    },
                    {
                      "data": {"values": [{"txt": "(c)", "t": 5.316, "v": -2.3465}]},
                      "mark": {"type": "text", "align": "left", "baseline": "middle", "font": "Liberation Serif", "fontWeight": "bold", "fontSize": 21.5, "color": "black"},
                      "encoding": {"text": {"field": "txt"}}
                    },
                    {
                      "data": {"values": [{"txt": "Side (", "t": 5.5505, "v": -2.3465}, {"txt": ") data comparison", "t": 6.2519, "v": -2.3465}]},
                      "mark": {"type": "text", "align": "left", "baseline": "middle", "font": "Liberation Serif", "fontSize": 20.5, "color": "black"},
                      "encoding": {"text": {"field": "txt"}}
                    },
                    {
                      "data": {"values": [{"txt": "WG", "t": 5.9416, "v": -2.3465}]},
                      "mark": {"type": "text", "align": "left", "baseline": "middle", "font": "Liberation Serif", "fontStyle": "italic", "fontSize": 20.5, "color": "black"},
                      "encoding": {"text": {"field": "txt"}}
                    },
                    {
                      "data": {"values": [{"txt": "2", "t": 6.1994, "v": -2.3957}]},
                      "mark": {"type": "text", "align": "left", "baseline": "middle", "font": "Liberation Serif", "fontStyle": "italic", "fontSize": 13, "color": "black"},
                      "encoding": {"text": {"field": "txt"}}
                    },
                    {
                      "data": {"values": [{"txt": "Relative wave heightη/η", "t": 4.0475, "v": -1.3426}, {"txt": "WG", "t": 4.0475, "v": 0.9637}]},
                      "mark": {"type": "text", "angle": 270, "align": "left", "baseline": "middle", "font": "Liberation Serif", "fontSize": 21, "color": "black"},
                      "encoding": {"text": {"field": "txt"}}
                    },
                    {
                      "data": {"values": [{"txt": "max", "t": 4.0919, "v": 0.666}, {"txt": "ref", "t": 4.0919, "v": 1.3082}]},
                      "mark": {"type": "text", "angle": 270, "align": "left", "baseline": "middle", "font": "Liberation Serif", "fontSize": 14.5, "color": "black"},
                      "encoding": {"text": {"field": "txt"}}
                    }
                  ]
                }
              ]
            },
            {
              "spacing": 0,
              "bounds": "flush",
              "resolve": {"scale": {"color": "independent", "strokeDash": "independent"}},
              "hconcat": [
                {"width": 112, "height": 10, "view": {"stroke": null}, "data": {"values": [{"x": 0}]}, "mark": {"type": "point", "opacity": 0}, "encoding": {"x": {"field": "x", "type": "quantitative", "axis": null}}},
                {
                  "width": 561,
                  "height": 302,
                  "view": {"stroke": "black", "strokeWidth": 2.5},
                  "resolve": {"axis": {"x": "independent", "y": "independent"}},
                  "encoding": {
                    "x": {"field": "t", "type": "quantitative", "scale": {"domain": [4.5, 8.5], "nice": false, "zero": false}, "axis": null},
                    "y": {"field": "v", "type": "quantitative", "scale": {"domain": [-1.5, 1.6], "nice": false, "zero": false}, "axis": null}
                  },
                  "layer": [
                    {
                      "data": {"name": "d_lines"},
                      "mark": {"type": "line", "interpolate": "monotone", "strokeWidth": 2.2},
                      "encoding": {
                        "x": {"field": "t", "type": "quantitative", "scale": {"domain": [4.5, 8.5], "nice": false, "zero": false},
                          "axis": {"orient": "bottom", "values": [4.5,4.75,5,5.25,5.5,5.75,6,6.25,6.5,6.75,7,7.25,7.5,7.75,8,8.25,8.5],
                            "labelExpr": "datum.value % 0.5 === 0 ? format(datum.value, '.1f') : ''",
                            "labelFontSize": 22, "labelPadding": 24, "tickSize": -5, "tickWidth": 1.5, "tickColor": "black", "domain": false,
                            "grid": true,
                            "gridColor": {"condition": {"test": "datum.value % 0.5 === 0", "value": "#a0a0a0"}, "value": "#c8c8c8"},
                            "gridDash": {"condition": {"test": "datum.value % 0.5 === 0", "value": []}, "value": [2, 2]},
                            "gridWidth": {"condition": {"test": "datum.value % 0.5 === 0", "value": 1.3}, "value": 1},
                            "title": "relative time t/T", "titleFontSize": 17, "titlePadding": 6}},
                        "y": {"field": "v", "type": "quantitative", "scale": {"domain": [-1.5, 1.6], "nice": false, "zero": false},
                          "axis": {"orient": "left", "values": [-1.5,-1.25,-1,-0.75,-0.5,-0.25,0,0.25,0.5,0.75,1,1.25,1.5],
                            "labelExpr": "datum.value % 0.5 === 0 ? format(datum.value, '.1f') : ''",
                            "labelFontSize": 22, "labelPadding": 18, "tickSize": -5, "tickWidth": 1.5, "tickColor": "black", "domain": false,
                            "grid": true,
                            "gridColor": {"condition": {"test": "datum.value % 0.5 === 0", "value": "#a0a0a0"}, "value": "#c8c8c8"},
                            "gridDash": {"condition": {"test": "datum.value % 0.5 === 0", "value": []}, "value": [2, 2]},
                            "gridWidth": {"condition": {"test": "datum.value % 0.5 === 0", "value": 1.3}, "value": 1},
                            "title": null}},
                        "color": {"field": "series", "type": "nominal",
                          "scale": {"domain": ["experimental results", "The numerical calculation results"], "range": ["#4a4a4a", "#ff4343"]},
                          "legend": {"title": null, "orient": "none", "legendX": 278, "legendY": 246, "direction": "vertical",
                            "fillColor": "white", "strokeColor": "black", "padding": 5, "labelFontSize": 16.8, "labelColor": "black", "labelLimit": 0,
                            "symbolSize": 1296, "symbolStrokeWidth": 2, "labelOffset": 4, "rowPadding": 3,
                            "encode": {
                              "symbols": {"update": {
                                "shape": [{"test": "datum.value === 'experimental results'", "value": "M-1,0H1"}, {"value": "M-1,0H1M-0.24,0A0.24,0.24 0 1,0 0.24,0A0.24,0.24 0 1,0 -0.24,0Z"}],
                                "fill": [{"test": "datum.value === 'experimental results'", "value": "transparent"}, {"value": "#ff4343"}]
                              }}
                            }}},
                        "strokeDash": {"field": "series", "type": "nominal",
                          "scale": {"domain": ["experimental results", "The numerical calculation results"], "range": [[1, 0], [8, 5]]},
                          "legend": {"title": null, "orient": "none", "legendX": 278, "legendY": 246, "direction": "vertical",
                            "fillColor": "white", "strokeColor": "black", "padding": 5, "labelFontSize": 16.8, "labelColor": "black", "labelLimit": 0,
                            "symbolSize": 1296, "symbolStrokeWidth": 2, "labelOffset": 4, "rowPadding": 3,
                            "encode": {
                              "symbols": {"update": {
                                "shape": [{"test": "datum.value === 'experimental results'", "value": "M-1,0H1"}, {"value": "M-1,0H1M-0.24,0A0.24,0.24 0 1,0 0.24,0A0.24,0.24 0 1,0 -0.24,0Z"}],
                                "fill": [{"test": "datum.value === 'experimental results'", "value": "transparent"}, {"value": "#ff4343"}]
                              }}
                            }}}
                      }
                    },
                    {
                      "data": {"name": "d_pts"},
                      "mark": {"type": "circle", "size": 50, "color": "#ff4343", "opacity": 1, "clip": true},
                      "encoding": {
                        "x": {"field": "t", "type": "quantitative", "scale": {"domain": [4.5, 8.5], "nice": false, "zero": false},
                          "axis": {"orient": "top", "values": [4.5,4.75,5,5.25,5.5,5.75,6,6.25,6.5,6.75,7,7.25,7.5,7.75,8,8.25,8.5], "labels": false, "domain": false, "grid": false, "tickSize": -5, "tickWidth": 1.5, "tickColor": "black", "title": null}},
                        "y": {"field": "v", "type": "quantitative", "scale": {"domain": [-1.5, 1.6], "nice": false, "zero": false},
                          "axis": {"orient": "right", "values": [-1.5,-1.25,-1,-0.75,-0.5,-0.25,0,0.25,0.5,0.75,1,1.25,1.5], "labels": false, "domain": false, "grid": false, "tickSize": -5, "tickWidth": 1.5, "tickColor": "black", "title": null}}
                      }
                    },
                    {
                      "data": {"values": [{"txt": "(d)", "t": 5.3414, "v": -2.4443}]},
                      "mark": {"type": "text", "align": "left", "baseline": "middle", "font": "Liberation Serif", "fontWeight": "bold", "fontSize": 21.5, "color": "black"},
                      "encoding": {"text": {"field": "txt"}}
                    },
                    {
                      "data": {"values": [{"txt": "Backend (", "t": 5.5652, "v": -2.4443}, {"txt": ") data comparison", "t": 6.4358, "v": -2.4443}]},
                      "mark": {"type": "text", "align": "left", "baseline": "middle", "font": "Liberation Serif", "fontSize": 20.5, "color": "black"},
                      "encoding": {"text": {"field": "txt"}}
                    },
                    {
                      "data": {"values": [{"txt": "WG", "t": 6.1621, "v": -2.4443}]},
                      "mark": {"type": "text", "align": "left", "baseline": "middle", "font": "Liberation Serif", "fontStyle": "italic", "fontSize": 20.5, "color": "black"},
                      "encoding": {"text": {"field": "txt"}}
                    },
                    {
                      "data": {"values": [{"txt": "3", "t": 6.3895, "v": -2.4957}]},
                      "mark": {"type": "text", "align": "left", "baseline": "middle", "font": "Liberation Serif", "fontStyle": "italic", "fontSize": 13, "color": "black"},
                      "encoding": {"text": {"field": "txt"}}
                    },
                    {
                      "data": {"values": [{"txt": "Relative wave heightη/η", "t": 4.0152, "v": -1.3871}, {"txt": "WG", "t": 4.0152, "v": 1.0611}]},
                      "mark": {"type": "text", "angle": 270, "align": "left", "baseline": "middle", "font": "Liberation Serif", "fontSize": 21.5, "color": "black"},
                      "encoding": {"text": {"field": "txt"}}
                    },
                    {
                      "data": {"values": [{"txt": "max", "t": 4.0544, "v": 0.7583}, {"txt": "ref", "t": 4.0544, "v": 1.4286}]},
                      "mark": {"type": "text", "angle": 270, "align": "left", "baseline": "middle", "font": "Liberation Serif", "fontSize": 14, "color": "black"},
                      "encoding": {"text": {"field": "txt"}}
                    }
                  ]
                }
              ]
            }
          ]
        }
      ]
    }
  ]
}
